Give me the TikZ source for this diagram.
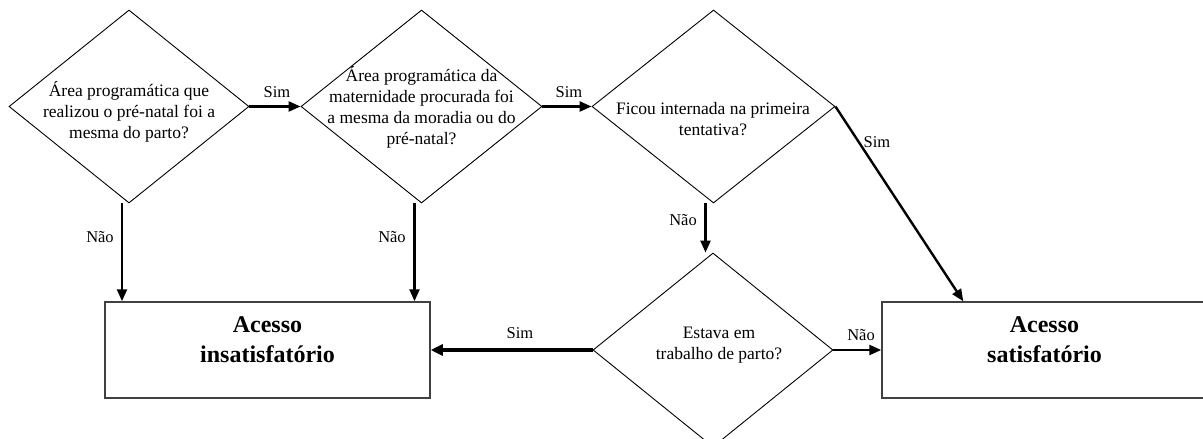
\documentclass[tikz,border=0pt]{standalone}
\usepackage{fontspec}
\setmainfont{Liberation Serif}
\usetikzlibrary{shapes.geometric,arrows.meta,calc}
\tikzset{
  dia/.style={diamond, draw=black, line width=0.9pt, inner sep=0pt, minimum width=241pt, minimum height=193pt},
  qtext/.style={align=center, inner sep=0pt, font=\fontsize{17.5}{21}\selectfont},
  outbox/.style={rectangle, draw=black!75, line width=1.5pt, inner sep=0pt, minimum width=325pt, minimum height=96pt},
  btext/.style={align=center, inner sep=0pt, font=\fontsize{24}{30}\selectfont\bfseries},
  lbl/.style={inner sep=0pt, font=\fontsize{16.5}{18}\selectfont},
  arr/.style={line width=2.4pt, -{Triangle[length=12pt,width=10pt]}},
  arrthick/.style={line width=4pt, -{Triangle[length=12pt,width=11pt]}},
}
\begin{document}
\begin{tikzpicture}[x=1pt,y=-1pt]
\useasboundingbox (0,0) rectangle (1203,439);
\clip (0,0) rectangle (1203,439);
\fill[white] (0,0) rectangle (1203,439);
% diamonds
\node[dia, minimum width=240pt] (d1) at (129,106.5) {};
\node[dia] (d2) at (421.5,106.5) {};
\node[dia, minimum width=243pt] (d3) at (713.5,106.5) {};
\node[dia, minimum width=240pt, minimum height=194pt] (d4) at (713,350) {};
% diamond texts
\node[qtext] (t1) at (129,112) {Área programática que\\realizou o pré-natal foi a\\mesma do parto?};
\node[qtext] (t2) at (421.5,107) {Área programática da\\maternidade procurada foi\\a mesma da moradia ou do\\pré-natal?};
\node[qtext] (t3) at (713,119) {Ficou internada na primeira\\tentativa?};
\node[qtext] (t4) at (719,345) {Estava em\\trabalho de parto?};
% boxes
\node[outbox] (b1) at (267.5,350) {};
\node[outbox] (b2) at (1044.5,350) {};
\node[btext] (bt1) at (267.5,340) {Acesso\\insatisfatório};
\node[btext] (bt2) at (1044.5,340) {Acesso\\satisfatório};
% connectors
\draw[arr] (d1.east) -- (d2.west);
\draw[arr] (d2.east) -- (d3.west);
\draw[arr] ([xshift=-7pt]d1.south) coordinate (s1) -- (s1 |- b1.north);
\draw[arr] ([xshift=-7pt]d2.south) coordinate (s2) -- (s2 |- b1.north);
\draw[arr] ([xshift=-8pt]d3.south) coordinate (s3) -- (s3 |- d4.north);
\draw[arr] (d3.east) -- ([xshift=82pt]b2.north west);
\draw[arrthick] (d4.west) -- (b1.east);
\draw[arr] (d4.east) -- (b2.west);
% labels
\node[lbl] (l1) at (277,92) {Sim};
\node[lbl] (l2) at (569,92) {Sim};
\node[lbl] (l3) at (877,142) {Sim};
\node[lbl] (l4) at (100,237) {Não};
\node[lbl] (l5) at (392,237) {Não};
\node[lbl] (l6) at (683,220) {Não};
\node[lbl] (l7) at (861,335) {Não};
\node[lbl] (l8) at (520,333) {Sim};
\end{tikzpicture}
\end{document}
